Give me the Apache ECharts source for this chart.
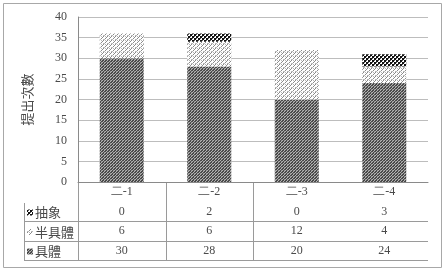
<!DOCTYPE html>
<html><head><meta charset="utf-8">
<script src="https://cdn.jsdelivr.net/npm/echarts@6/dist/echarts.min.js"></script>
<style>html,body{margin:0;padding:0;background:#fff}#c{width:445px;height:273px}</style>
</head><body><div id="c"></div>
<script>
var categories = ['二-1', '二-2', '二-3', '二-4'];
var seriesNames = ['抽象', '半具體', '具體'];
var abstractVals = [0, 2, 0, 3];
var semiVals = [6, 6, 12, 4];
var concreteVals = [30, 28, 20, 24];
var yTicks = [0, 5, 10, 15, 20, 25, 30, 35, 40];

function makePattern(size, painter) {
  var c = document.createElement('canvas');
  c.width = size; c.height = size;
  var g = c.getContext('2d');
  g.fillStyle = '#fff'; g.fillRect(0, 0, size, size);
  painter(g);
  return {image: c, repeat: 'repeat'};
}
var patConcrete = makePattern(3, function (g) {
  g.fillStyle = '#4a4a4a'; g.fillRect(0, 0, 3, 3);
  g.fillStyle = '#b4b4b4'; g.fillRect(1, 1, 1, 1); g.fillRect(2, 0, 1, 1); g.fillRect(0, 2, 1, 1);
  g.fillStyle = '#8a8a8a'; g.fillRect(2, 2, 1, 1);
});
var patSemi = makePattern(4, function (g) {
  g.fillStyle = '#8a8a8a';
  g.fillRect(3, 0, 1, 1); g.fillRect(2, 1, 1, 1); g.fillRect(1, 2, 1, 1);
  g.fillStyle = '#b8b8b8'; g.fillRect(0, 3, 1, 1); g.fillRect(1, 0, 1, 1); g.fillRect(3, 3, 1, 1);
});
var patAbstract = makePattern(4, function (g) {
  g.fillStyle = '#111';
  g.fillRect(0, 0, 2, 2); g.fillRect(2, 2, 2, 2);
  g.fillStyle = '#555'; g.fillRect(2, 0, 1, 1); g.fillRect(0, 2, 1, 1);
});
var patterns = [patAbstract, patSemi, patConcrete];
var rowVals = [abstractVals, semiVals, concreteVals];

var L = 78, R = 428, T = 17, B = 182;
var rowH = 19.5;
var cjk = '"Noto Sans CJK TC", "Noto Sans CJK SC", sans-serif';
var numFont = '"Liberation Serif", "DejaVu Serif", serif';
var txtColor = '#4a4a4a';

var chart = echarts.init(document.getElementById('c'));

var xAxes = [{
  type: 'category', data: categories, gridIndex: 0, position: 'bottom',
  axisLine: {lineStyle: {color: '#8a8a8a'}}, axisTick: {show: false},
  axisLabel: {margin: 4, fontSize: 12, color: txtColor, fontFamily: numFont}
}];
rowVals.forEach(function (vals, i) {
  xAxes.push({
    type: 'category', data: categories, gridIndex: 0, position: 'bottom',
    offset: rowH * (i + 1),
    axisLine: {show: false}, axisTick: {show: false},
    axisLabel: {margin: 4, fontSize: 12, color: txtColor, fontFamily: numFont,
      formatter: (function (v) { return function (val, idx) { return String(v[idx]); }; })(vals)}
  });
});

var graphics = [];
graphics.push({type: 'rect', shape: {x: 3.5, y: 3.5, width: 438, height: 264},
  style: {fill: 'none', stroke: '#a8a8a8', lineWidth: 1}, silent: true});
[1, 2, 3].forEach(function (k) {
  var y = Math.round(B + 19.5 + rowH * k) + 0.5;
  graphics.push({type: 'line', shape: {x1: 24, y1: y, x2: R, y2: y},
    style: {stroke: '#9a9a9a', lineWidth: 1}, silent: true});
});
var bottomY = Math.round(B + 19.5 + rowH * 3) + 0.5;
graphics.push({type: 'line', shape: {x1: 24.5, y1: B + 21, x2: 24.5, y2: bottomY},
  style: {stroke: '#9a9a9a', lineWidth: 1}, silent: true});
var cw = (R - L) / categories.length;
[0, 1, 2].forEach(function (k) {
  var x = Math.round(L + cw * k) + 0.5;
  graphics.push({type: 'line', shape: {x1: x, y1: B, x2: x, y2: bottomY},
    style: {stroke: '#9a9a9a', lineWidth: 1}, silent: true});
});
seriesNames.forEach(function (name, i) {
  var cy = B + 11 + rowH * (i + 1);
  graphics.push({type: 'rect', shape: {x: 27, y: cy - 3, width: 6, height: 6},
    style: {fill: patterns[i]}, silent: true});
  graphics.push({type: 'text', x: 35, y: cy,
    style: {text: name, font: '13px ' + cjk, fill: txtColor, verticalAlign: 'middle'}, silent: true});
});

chart.setOption({
  animation: false,
  backgroundColor: '#fff',
  grid: {left: L, right: 445 - R, top: T, bottom: 273 - B, containLabel: false},
  xAxis: xAxes,
  yAxis: {
    type: 'value', min: yTicks[0], max: yTicks[yTicks.length - 1], interval: 5,
    name: '提出次數', nameLocation: 'middle', nameGap: 44, nameRotate: 90,
    nameTextStyle: {fontSize: 13, color: txtColor, fontFamily: cjk},
    axisLine: {show: true, lineStyle: {color: '#8a8a8a'}}, axisTick: {show: false},
    axisLabel: {fontSize: 12, color: txtColor, margin: 11, fontFamily: numFont},
    splitLine: {lineStyle: {color: '#bdbdbd'}}
  },
  series: [
    {name: seriesNames[2], type: 'bar', stack: 's', data: concreteVals, barWidth: 44,
      itemStyle: {color: patConcrete}},
    {name: seriesNames[1], type: 'bar', stack: 's', data: semiVals, barWidth: 44,
      itemStyle: {color: patSemi}},
    {name: seriesNames[0], type: 'bar', stack: 's', data: abstractVals, barWidth: 44,
      itemStyle: {color: patAbstract}}
  ],
  graphic: graphics
});
</script></body></html>
